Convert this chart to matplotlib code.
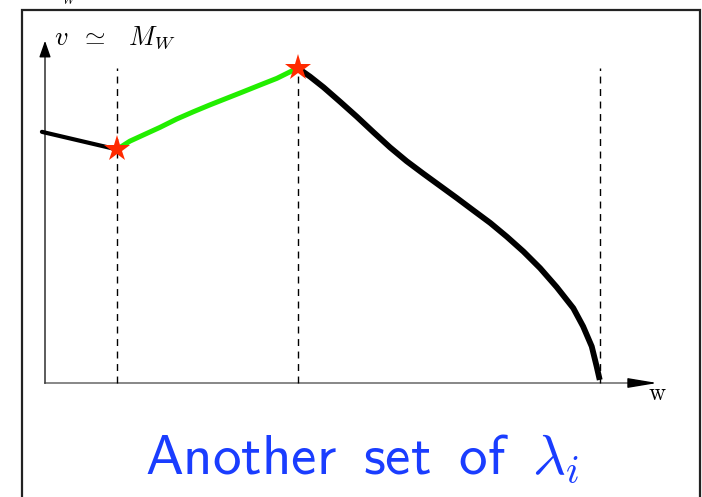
#! /usr/bin/env python

# Sketch of v(w) across the three regions, with the middle branch highlighted

import numpy as np
import matplotlib.pyplot as plt
from matplotlib.patches import Rectangle

plt.rcParams['mathtext.fontset'] = 'cm'

# curve data (w, v) in arbitrary units
w_left = [-0.05, 1.17]
v_left = [7.28, 6.77]

w_mid = [1.17, 1.38, 1.60, 1.87, 2.14, 2.41, 2.68, 2.95, 3.22, 3.50, 3.77, 4.11]
v_mid = [6.77, 7.01, 7.19, 7.41, 7.65, 7.86, 8.06, 8.25, 8.44, 8.64, 8.83, 9.13]

w_right = [4.11, 4.31, 4.53, 4.80, 5.07, 5.34, 5.61, 5.88, 6.15, 6.42, 6.69,
           6.96, 7.24, 7.51, 7.78, 8.05, 8.32, 8.59, 8.75, 8.89, 8.97, 9.02]
v_right = [9.13, 8.88, 8.57, 8.15, 7.72, 7.27, 6.83, 6.43, 6.07, 5.72, 5.37,
           5.01, 4.64, 4.24, 3.81, 3.33, 2.78, 2.17, 1.64, 1.06, 0.48, 0.09]

# boundaries between regions
w_bounds = [1.17, 4.11, 9.02]
v_top = 9.13

# star markers at the ends of the highlighted branch
w_star = [1.17, 4.11]
v_star = [6.77, 9.13]

fig = plt.figure(figsize=(7.02, 4.97), dpi=100)

# outer frame
fig.patches.append(Rectangle((22/702, -0.05), 678/702, 1.05 - 10/497,
                             transform=fig.transFigure, fill=False,
                             edgecolor='#222222', lw=1.6))

ax = fig.add_axes([45/702, 114/497, 615/702, 345/497])
ax.set_xlim(0, 10)
ax.set_ylim(0, 10)
ax.axis('off')

# axes with arrow heads
ax.plot([0, 9.7], [0, 0], color='0.45', lw=1.2, clip_on=False)
ax.plot([0, 0], [0, 9.7], color='0.25', lw=1.2, clip_on=False)
ax.annotate('', xy=(10, 0), xytext=(9.5, 0),
            arrowprops=dict(arrowstyle='-|>,head_length=1.8,head_width=0.3',
                            color='k', lw=1.0, mutation_scale=10), annotation_clip=False)
ax.annotate('', xy=(0, 10), xytext=(0, 9.5),
            arrowprops=dict(arrowstyle='-|>,head_length=1.0,head_width=0.35',
                            color='k', lw=1.0, mutation_scale=10), annotation_clip=False)

for wb in w_bounds:
    ax.plot([wb, wb], [0, v_top], color='k', lw=1.0, ls=(0, (5, 4)), clip_on=False)

ax.plot(w_left, v_left, color='k', lw=3.0, solid_capstyle='round', clip_on=False)
ax.plot(w_mid, v_mid, color='#22ee00', lw=3.6, solid_capstyle='round', clip_on=False)
ax.plot(w_right, v_right, color='k', lw=4.2, solid_capstyle='butt',
        solid_joinstyle='round', clip_on=False)
ax.plot(w_star, v_star, ls='none', marker='*', markersize=20, color='#ff2a00',
        markeredgewidth=0, clip_on=False, zorder=5)

ax.text(0.15, 10.0, r'$v\;\;\simeq\;\;\;M_W$', fontsize=19, va='center', ha='left')
ax.text(9.95, -0.3, r'$\mathrm{w}$', fontsize=17, va='center', ha='center')

fig.text(362/702, 1 - 458/497,
         r'$\mathsf{Another}\;\;\mathsf{set}\;\;\mathsf{of}\;\;\lambda_i$',
         fontsize=41, color='#1a3dff', ha='center', va='center')

fig.text(70/702, 1.0, r'$W$', fontsize=9, ha='center', va='center')

plt.savefig('out.png', dpi=100)
